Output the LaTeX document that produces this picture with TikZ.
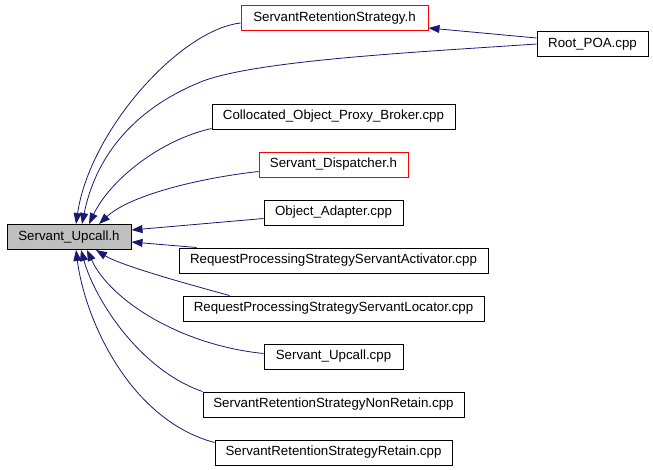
\documentclass[tikz,border=0pt]{standalone}
\usepackage{fontspec}
\setmainfont{Liberation Sans}
\usetikzlibrary{arrows.meta}
\definecolor{edgeblue}{HTML}{191970}
\definecolor{boxgray}{HTML}{BFBFBF}
\begin{document}
\begin{tikzpicture}[x=1pt, y=-1pt,
    file/.style={rectangle, draw=black, line width=1pt, inner sep=0pt, minimum height=25pt,
        font=\fontsize{13.3}{16}\selectfont},
    redfile/.style={file, draw=red},
    dep/.style={draw=edgeblue, line width=0.8pt, -{Triangle[length=11pt,width=8pt]}}]
        \useasboundingbox (0,0) rectangle (653,469);

        \node[file, fill=boxgray, minimum width=124pt] (su) at (69, 237) {Servant\_Upcall.h};
        \node[redfile, minimum width=187pt] (srs) at (334.5, 18) {ServantRetentionStrategy.h};
        \node[file, minimum width=111pt] (root) at (592.5, 44) {Root\_POA.cpp};
        \node[file, minimum width=243pt] (colloc) at (333.5, 116.5) {Collocated\_Object\_Proxy\_Broker.cpp};
        \node[redfile, minimum width=149pt] (disp) at (333.5, 164.5) {Servant\_Dispatcher.h};
        \node[file, minimum width=139pt] (oa) at (333.5, 212.5) {Object\_Adapter.cpp};
        \node[file, minimum width=309pt] (act) at (333.5, 260.5) {RequestProcessingStrategyServantActivator.cpp};
        \node[file, minimum width=301pt] (loc) at (333.5, 308.5) {RequestProcessingStrategyServantLocator.cpp};
        \node[file, minimum width=139pt] (sucpp) at (333.5, 356.5) {Servant\_Upcall.cpp};
        \node[file, minimum width=261pt] (nonret) at (333.5, 404.5) {ServantRetentionStrategyNonRetain.cpp};
        \node[file, minimum width=237pt] (ret) at (333.5, 452.5) {ServantRetentionStrategyRetain.cpp};

        % into the top of Servant_Upcall.h
        \draw[dep] ([yshift=-5pt]srs.west) .. controls (180,30) and (90,130) .. ([xshift=7pt]su.north);
        \draw[dep] (root.west) .. controls (420,52) and (260,60) .. (203,81)
            .. controls (130,110) and (95,160) .. ([xshift=13pt]su.north);
        \draw[dep] ([yshift=6pt]root.west) -- ([yshift=-10pt]srs.east);
        \draw[dep] ([yshift=1pt]colloc.south west) .. controls (160,140) and (110,180) .. ([xshift=20pt]su.north);
        \draw[dep] ([yshift=-7pt]disp.west) .. controls (200,178) and (130,195) .. ([xshift=30pt]su.north);

        % into the right side
        \draw[dep] ([yshift=-6pt]oa.west) -- ([yshift=7pt]su.east);
        \draw[dep] ([xshift=18pt]act.north west) -- ([yshift=-5pt]su.east);

        % into the bottom
        \draw[dep] ([xshift=47pt]loc.north west) .. controls (180,282) and (120,265) .. ([xshift=27pt]su.south);
        \draw[dep] ([yshift=3pt]sucpp.west) .. controls (180,345) and (110,300) .. ([xshift=18pt]su.south);
        \draw[dep] (nonret.north west) .. controls (140,370) and (95,300) .. ([xshift=12pt]su.south);
        \draw[dep] ([yshift=-3pt]ret.north west) .. controls (130,420) and (85,320) .. ([xshift=7pt]su.south);

    \end{tikzpicture}
\end{document}
